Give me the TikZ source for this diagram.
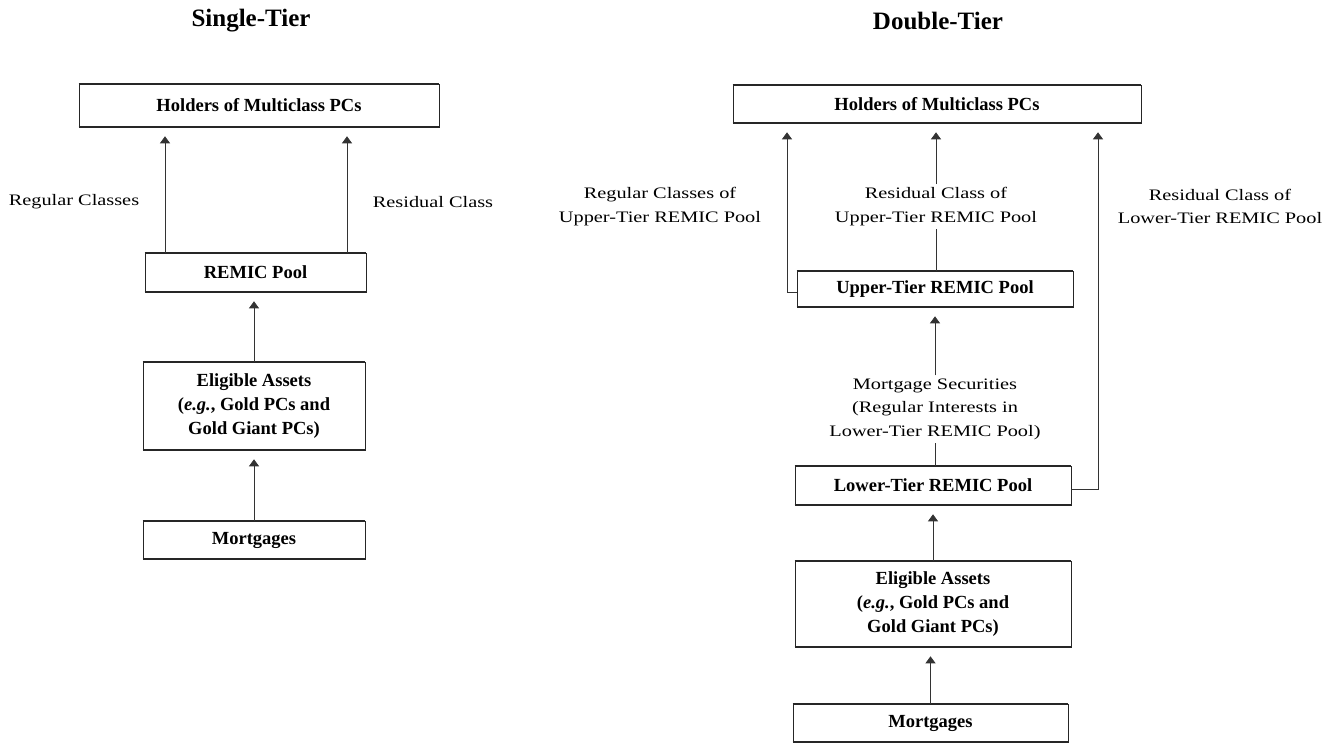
\documentclass[tikz,border=0pt]{standalone}
\usepackage{fontspec}
\setmainfont{Liberation Serif}
\newfontfamily\labfont{Liberation Serif}[FakeStretch=1.27]
\usetikzlibrary{arrows.meta}
\begin{document}
\begin{tikzpicture}[x=1pt,y=-1pt,
  box/.style={draw=black!85, line width=0.6pt, align=center, inner sep=0pt,
    font=\fontsize{18.5}{24}\selectfont\bfseries},
  lab/.style={align=center, inner sep=3pt, font=\labfont\fontsize{16}{23.5}\selectfont},
  ttl/.style={font=\fontsize{25}{30}\selectfont\bfseries},
  conn/.style={draw=black!80, line width=0.8pt},
  arr/.style={conn, -{Triangle[width=10pt,length=7pt]}, shorten >=9pt},
  edge/.style={draw=black!85, line width=2.2pt}
]
\useasboundingbox (0,0) rectangle (1344,743);

% titles
\node[ttl] (t1) at (251,21) {Single-Tier};
\node[ttl] (t2) at (938,21) {Double-Tier};

% single-tier boxes
\node[box, minimum width=360pt, minimum height=43pt] (LH) at (259,105.5) {Holders of Multiclass PCs};
\node[box, minimum width=221pt, minimum height=39pt] (LR) at (255.5,272.5) {REMIC Pool};
\node[box, minimum width=222pt, minimum height=88pt] (LE) at (254,406) {Eligible Assets\\(\textit{e.g.}, Gold PCs and\\Gold Giant PCs)};
\node[box, minimum width=222pt, minimum height=38pt] (LM) at (254,540) {Mortgages};

% double-tier boxes
\node[box, minimum width=408pt, minimum height=38pt] (RH) at (937,104) {Holders of Multiclass PCs};
\node[box, minimum width=276pt, minimum height=36pt] (RU) at (935,289) {Upper-Tier REMIC Pool};
\node[box, minimum width=276pt, minimum height=39pt] (RL) at (933,485.5) {Lower-Tier REMIC Pool};
\node[box, minimum width=276pt, minimum height=86pt] (RE) at (933,604) {Eligible Assets\\(\textit{e.g.}, Gold PCs and\\Gold Giant PCs)};
\node[box, minimum width=275pt, minimum height=38pt] (RM) at (930.5,723) {Mortgages};

% thick top and bottom edges
\foreach \n in {LH,LR,LE,LM,RH,RU,RL,RE,RM}
  \draw[edge] (\n.north west) -- (\n.north east) (\n.south west) -- (\n.south east);

% labels
\node[lab] (lreg) at (74,202) {Regular Classes};
\node[lab] (lres) at (433,202) {Residual Class};
\node[lab] (rreg) at (660,206.5) {Regular Classes of\\Upper-Tier REMIC Pool};
\node[lab] (mres) at (936,206.5) {Residual Class of\\Upper-Tier REMIC Pool};
\node[lab] (rres) at (1220,206.5) {Residual Class of\\Lower-Tier REMIC Pool};
\node[lab] (msec) at (935,409) {Mortgage Securities\\(Regular Interests in\\Lower-Tier REMIC Pool)};

% x positions of vertical connectors
\coordinate (xa) at (165,0);
\coordinate (xb) at (347,0);
\coordinate (xc) at (787,0);
\coordinate (xd) at (1098,0);

% single-tier connectors
\draw[arr] (xa |- LR.north) -- (xa |- LH.south);
\draw[arr] (xb |- LR.north) -- (xb |- LH.south);
\draw[arr] (LE.north) -- (LE.north |- LR.south);
\draw[arr] (LM.north) -- (LM.north |- LE.south);

% double-tier connectors
\draw[arr] ([yshift=-3pt]RU.west) -| (xc |- RH.south);
\draw[arr] ([yshift=-4pt]RL.east) -| (xd |- RH.south);
\draw[conn] (mres.south |- RU.north) -- (mres.south);
\draw[arr] (mres.north) -- (mres.north |- RH.south);
\draw[conn] (msec.south |- RL.north) -- (msec.south);
\draw[arr] (msec.north) -- (msec.north |- RU.south);
\draw[arr] (RE.north) -- (RE.north |- RL.south);
\draw[arr] (RM.north) -- (RM.north |- RE.south);
\end{tikzpicture}
\end{document}
